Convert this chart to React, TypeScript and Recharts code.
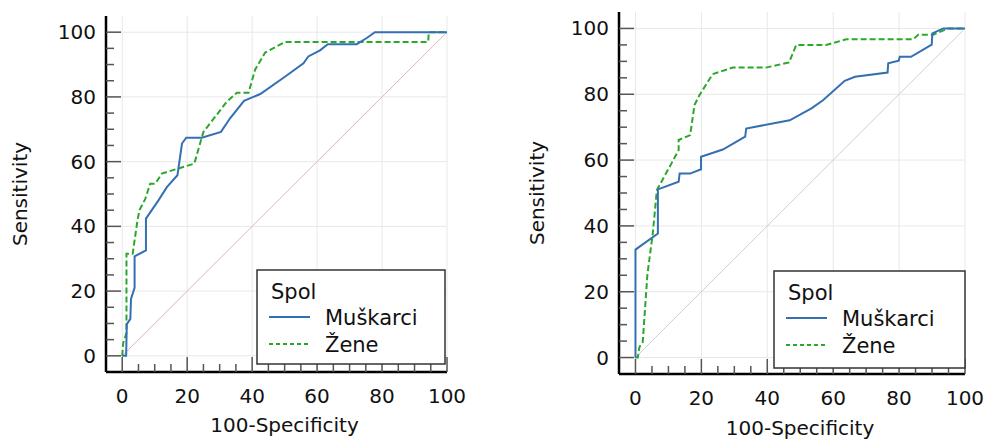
import { LineChart, Line, XAxis, YAxis, CartesianGrid } from "recharts";

const FONT = "'DejaVu Sans', sans-serif";
const BLUE = "#356fb3";
const GREEN = "#2aa82a";

const axisTicks = [0, 5, 10, 15, 20, 25, 30, 35, 40, 45, 50, 55, 60, 65, 70, 75, 80, 85, 90, 95, 100];
const gridValues = [0, 20, 40, 60, 80, 100];
const diagonal = [0, 100];

// left panel
const leftMenX = [0, 1.2, 1.4, 2.5, 2.7, 3.8, 3.8, 7.3, 7.3, 11.2, 13.8, 17.0, 18.4, 19.7, 24.5, 30.4, 33.2, 37.5, 42.5, 50.2, 55.8, 57.3, 60.9, 63.3, 72.2, 75.3, 77.8, 100];
const leftMenY = [0, 0, 9.8, 11.4, 17.6, 21, 30.7, 32.6, 42.4, 48.1, 52.2, 55.8, 65.6, 67.4, 67.4, 69.2, 73.4, 78.8, 80.9, 86.3, 90.4, 92.5, 94.4, 96.3, 96.3, 98.2, 100, 100];
const leftWomenX = [0, 0.3, 1.3, 1.3, 3.2, 4.7, 5.3, 7.1, 8.6, 10.2, 12.2, 17.3, 22.2, 25, 32.2, 35.3, 38.9, 40.9, 44, 50.2, 94.2, 94.4, 100];
const leftWomenY = [0, 4, 7, 31.5, 31.5, 41.9, 45, 48.5, 53.2, 53.2, 56.3, 57.9, 59.4, 69.2, 78.5, 81.3, 81.3, 88.4, 93.7, 97, 97, 100, 100];

// right panel
const rightMenX = [0, 0, 6.8, 6.8, 13.1, 13.4, 16.6, 19.9, 19.9, 26.5, 33.3, 33.6, 46.8, 53.4, 56.9, 63.5, 66.6, 76.5, 76.7, 79.9, 80.2, 83.6, 89.9, 90.1, 93.4, 100];
const rightMenY = [0, 32.8, 37.7, 51.1, 53.4, 55.9, 55.9, 57.2, 61, 63.2, 67.1, 69.6, 72.1, 75.7, 78.2, 84.1, 85.3, 86.6, 89.4, 90.2, 91.4, 91.4, 95.1, 98.5, 100, 100];
const rightWomenX = [0, 0.7, 1.2, 2.2, 3.6, 4.7, 5.2, 6.5, 13.1, 13.1, 16.6, 17.9, 19.4, 23.4, 29.5, 39.6, 46.6, 48.8, 57.9, 64, 84.3, 85.8, 90.3, 94.9, 100];
const rightWomenY = [0, 0, 3.2, 4.7, 25, 33.6, 37.2, 50.9, 63, 66.1, 67.6, 76.7, 79.7, 86.1, 88.1, 88.1, 89.7, 95, 95, 96.7, 96.7, 98.1, 98.1, 100, 100];

const toPoints = (xs: number[], ys: number[]) => xs.map((x, i) => ({ x, y: ys[i] }));

function YTick(props: any) {
  const { x, y, payload } = props;
  const major = payload.value % 20 === 0;
  return (
    <g>
      <line x1={x} x2={x + (major ? 15 : 8)} y1={y} y2={y} stroke="#555" strokeWidth={1.5} />
      {major && (
        <text x={x - 10} y={y} dy={7} textAnchor="end" fontFamily={FONT} fontSize={20} fill="#111">
          {payload.value}
        </text>
      )}
    </g>
  );
}

function XTick(props: any) {
  const { x, y, payload } = props;
  const major = payload.value % 20 === 0;
  return (
    <g>
      <line x1={x} x2={x} y1={y} y2={y - (major ? 15 : 8)} stroke="#555" strokeWidth={1.5} />
      {major && (
        <text x={x} y={y + 31} textAnchor="middle" fontFamily={FONT} fontSize={20} fill="#111">
          {payload.value}
        </text>
      )}
    </g>
  );
}

function LegendBox({ left, top, width, height }: { left: number; top: number; width: number; height: number }) {
  return (
    <svg
      width={width}
      height={height}
      style={{ position: "absolute", left, top, overflow: "visible" }}
    >
      <rect x={0} y={0} width={width} height={height} fill="#fff" stroke="#333" strokeWidth={1.5} />
      <text x={14} y={29} fontFamily={FONT} fontSize={21} fill="#111">Spol</text>
      <line x1={12} x2={53} y1={47} y2={47} stroke={BLUE} strokeWidth={2} />
      <text x={68} y={47} dy={8} fontFamily={FONT} fontSize={21} fill="#111">Muškarci</text>
      <line x1={12} x2={53} y1={74} y2={74} stroke={GREEN} strokeWidth={2} strokeDasharray="4 3" />
      <text x={68} y={74} dy={8} fontFamily={FONT} fontSize={21} fill="#111">Žene</text>
    </svg>
  );
}

interface PanelProps {
  left: number;
  width: number;
  top: number;
  axisWidth: number;
  xAxisHeight: number;
  rightMargin: number;
  men: { x: number; y: number }[];
  women: { x: number; y: number }[];
  diagColor: string;
  yLabelX: number;
  xLabelDx: number;
  xLabelY: number;
}

function RocPanel(p: PanelProps) {
  const diag = toPoints(diagonal, diagonal);
  return (
    <div style={{ position: "absolute", left: p.left, top: 0 }}>
      <LineChart
        width={p.width}
        height={441}
        margin={{ top: p.top, right: p.rightMargin, bottom: 0, left: 0 }}
      >
        <CartesianGrid
          stroke="#e8e8e8"
          strokeWidth={1}
          horizontalValues={gridValues}
          verticalValues={gridValues}
        />
        <XAxis
          type="number"
          dataKey="x"
          domain={[-5, 100]}
          ticks={axisTicks}
          interval={0}
          height={p.xAxisHeight}
          tickSize={0}
          tickMargin={0}
          tickLine={false}
          axisLine={{ stroke: "#000", strokeWidth: 2.5 }}
          tick={<XTick />}
          label={(lp: any) => {
            const vb = lp.viewBox;
            return (
              <text
                x={vb.x + vb.width / 2 + p.xLabelDx}
                y={p.xLabelY}
                textAnchor="middle"
                fontFamily={FONT}
                fontSize={20}
                fill="#111"
              >
                100-Specificity
              </text>
            );
          }}
        />
        <YAxis
          type="number"
          dataKey="y"
          domain={[-5, 105]}
          ticks={axisTicks}
          interval={0}
          width={p.axisWidth}
          tickSize={0}
          tickMargin={0}
          tickLine={false}
          axisLine={{ stroke: "#000", strokeWidth: 2.5 }}
          tick={<YTick />}
          label={(lp: any) => {
            const vb = lp.viewBox;
            const cy = vb.y + vb.height / 2;
            return (
              <text
                x={p.yLabelX}
                y={cy}
                transform={`rotate(-90 ${p.yLabelX} ${cy})`}
                textAnchor="middle"
                dy={7}
                fontFamily={FONT}
                fontSize={20}
                fill="#111"
              >
                Sensitivity
              </text>
            );
          }}
        />
        <Line
          data={diag}
          dataKey="y"
          stroke={p.diagColor}
          strokeWidth={1}
          dot={false}
          activeDot={false}
          isAnimationActive={false}
        />
        <Line
          data={p.women}
          dataKey="y"
          stroke={GREEN}
          strokeWidth={2}
          strokeDasharray="6 3"
          dot={false}
          activeDot={false}
          isAnimationActive={false}
        />
        <Line
          data={p.men}
          dataKey="y"
          stroke={BLUE}
          strokeWidth={2}
          dot={false}
          activeDot={false}
          isAnimationActive={false}
        />
      </LineChart>
    </div>
  );
}

export default function App() {
  return (
    <div
      style={{
        position: "absolute",
        left: 0,
        top: 0,
        width: 985,
        height: 441,
        background: "#fff",
        overflow: "hidden",
      }}
    >
      <RocPanel
        left={0}
        width={470}
        top={16}
        axisWidth={106}
        xAxisHeight={69}
        rightMargin={23}
        men={toPoints(leftMenX, leftMenY)}
        women={toPoints(leftWomenX, leftWomenY)}
        diagColor="#e3b5b5"
        yLabelX={20}
        xLabelDx={8}
        xLabelY={432}
      />
      <RocPanel
        left={490}
        width={495}
        top={12}
        axisWidth={129}
        xAxisHeight={67}
        rightMargin={20}
        men={toPoints(rightMenX, rightMenY)}
        women={toPoints(rightWomenX, rightWomenY)}
        diagColor="#cfcfcf"
        yLabelX={47}
        xLabelDx={8}
        xLabelY={435}
      />
      <LegendBox left={257} top={270} width={188} height={94} />
      <LegendBox left={774} top={271} width={191} height={97} />
    </div>
  );
}
